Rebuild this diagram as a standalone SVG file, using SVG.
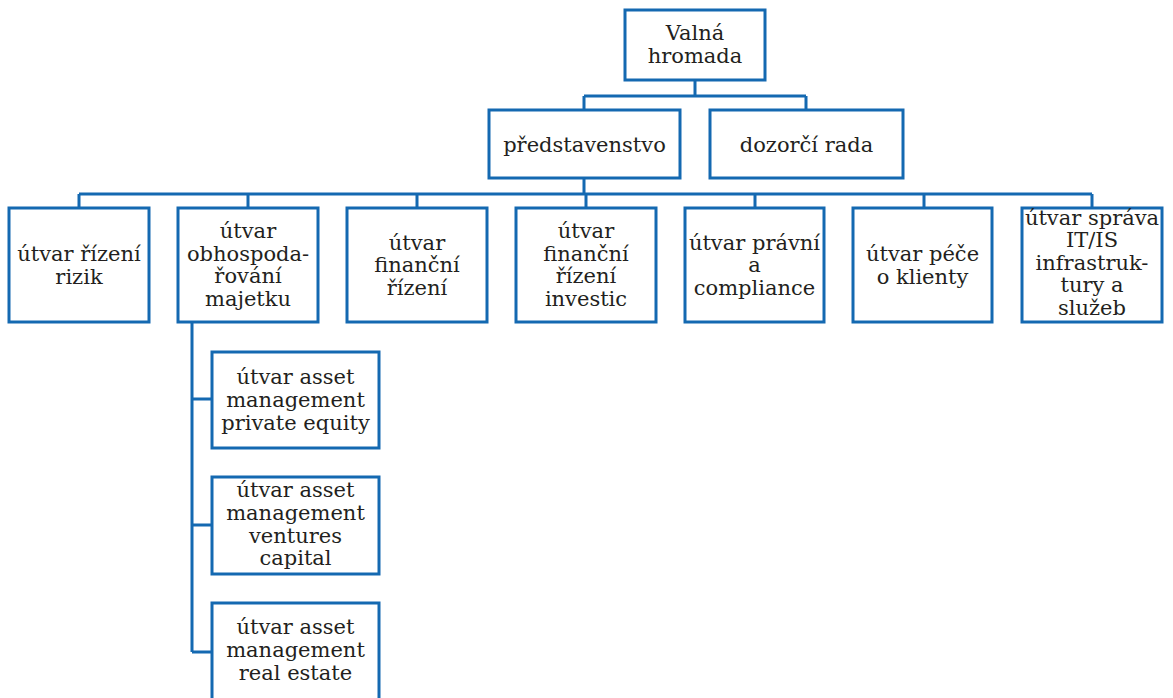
<svg xmlns="http://www.w3.org/2000/svg" width="1173" height="698" viewBox="0 0 1173 698">
<style>
.box{fill:#fff;stroke:#1469b1;stroke-width:3}
.ln{fill:none;stroke:#1469b1;stroke-width:3}
text{font-family:"DejaVu Serif","Liberation Serif",serif;font-size:21px;fill:#231f20;text-anchor:middle}
</style>
<rect width="1173" height="698" fill="#fff"/>
<g id="connectors">
<path class="ln" d="M695 80V96M584 96H806M584 96V110M806 96V110"/>
<path class="ln" d="M584 178V194M79 194H1092M79 194V208M248 194V208M417 194V208M586 194V208M755 194V208M924 194V208M1092 194V208"/>
<path class="ln" d="M192 322V652M192 399H212M192 525H212M192 652H212"/>
</g>
<g id="n-valna"><rect class="box" x="625" y="10" width="140" height="70"/><text x="695" y="40">Valná</text><text x="695" y="63">hromada</text></g>
<g id="n-predstavenstvo"><rect class="box" x="489" y="110" width="191" height="68"/><text x="584.5" y="152">představenstvo</text></g>
<g id="n-dozorci"><rect class="box" x="710" y="110" width="193" height="68"/><text x="806.5" y="152">dozorčí rada</text></g>
<g id="n-rizika"><rect class="box" x="9" y="208" width="140" height="114"/><text x="79" y="261">útvar řízení</text><text x="79" y="284">rizik</text></g>
<g id="n-majetek"><rect class="box" x="178" y="208" width="140" height="114"/><text x="248" y="238">útvar</text><text x="248" y="261">obhospoda-</text><text x="248" y="283">řování</text><text x="248" y="306">majetku</text></g>
<g id="n-financni"><rect class="box" x="347" y="208" width="140" height="114"/><text x="417" y="250">útvar</text><text x="417" y="272">finanční</text><text x="417" y="295">řízení</text></g>
<g id="n-investic"><rect class="box" x="516" y="208" width="140" height="114"/><text x="586" y="238">útvar</text><text x="586" y="261">finanční</text><text x="586" y="283">řízení</text><text x="586" y="306">investic</text></g>
<g id="n-pravni"><rect class="box" x="685" y="208" width="139" height="114"/><text x="754.5" y="250">útvar právní</text><text x="754.5" y="272">a</text><text x="754.5" y="295">compliance</text></g>
<g id="n-klienti"><rect class="box" x="853" y="208" width="139" height="114"/><text x="922.5" y="261">útvar péče</text><text x="922.5" y="284">o klienty</text></g>
<g id="n-it"><rect class="box" x="1022" y="208" width="140" height="114"/><text x="1092" y="225">útvar správa</text><text x="1092" y="247">IT/IS</text><text x="1092" y="270">infrastruk-</text><text x="1092" y="292">tury a</text><text x="1092" y="315">služeb</text></g>
<g id="n-pe"><rect class="box" x="212" y="352" width="167" height="96"/><text x="295.5" y="384">útvar asset</text><text x="295.5" y="407">management</text><text x="295.5" y="430">private equity</text></g>
<g id="n-vc"><rect class="box" x="212" y="477" width="167" height="97"/><text x="295.5" y="497">útvar asset</text><text x="295.5" y="520">management</text><text x="295.5" y="543">ventures</text><text x="295.5" y="565">capital</text></g>
<g id="n-re"><rect class="box" x="212" y="603" width="167" height="100"/><text x="295.5" y="634">útvar asset</text><text x="295.5" y="657">management</text><text x="295.5" y="680">real estate</text></g>
</svg>
